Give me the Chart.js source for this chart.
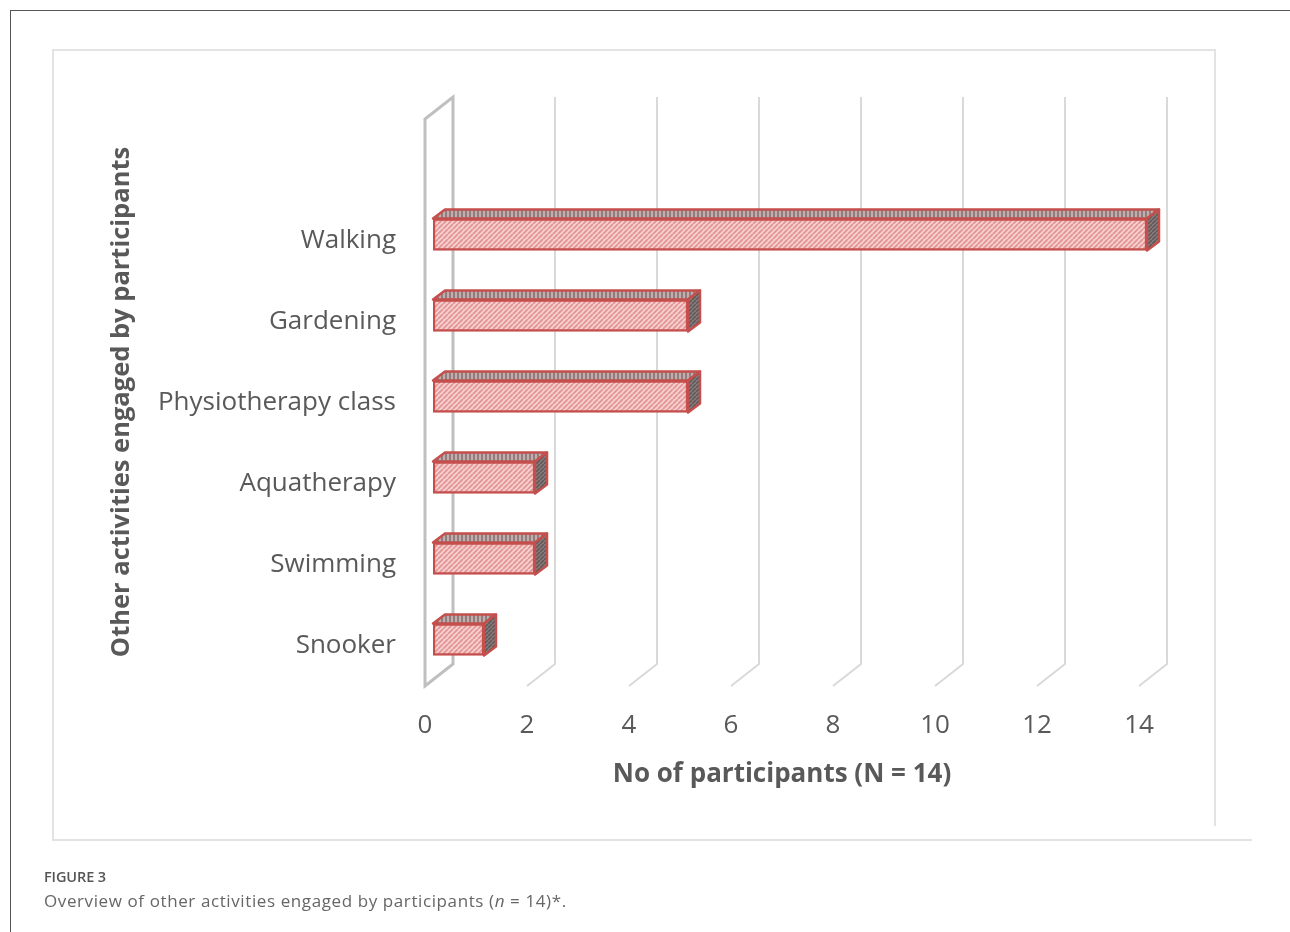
<!DOCTYPE html>
<html>
<head>
<meta charset="utf-8">
<script src="https://cdn.jsdelivr.net/npm/chart.js@4"></script>
<style>
  html, body { margin: 0; padding: 0; background: #fff; }
  body { width: 1290px; height: 932px; position: relative; overflow: hidden; }
  .outer { position: absolute; left: 10px; top: 10px; width: 1290px; height: 930px;
           border-left: 1px solid #555; border-top: 1px solid #555; }
  .frame-l { position: absolute; left: 52px; top: 49px; width: 2px; height: 792px; background: #e3e3e3; }
  .frame-t { position: absolute; left: 52px; top: 49px; width: 1164px; height: 2px; background: #e3e3e3; }
  .frame-r { position: absolute; left: 1214px; top: 49px; width: 2px; height: 777px; background: #e3e3e3; }
  .frame-b { position: absolute; left: 52px; top: 839px; width: 1200px; height: 2px; background: #e3e3e3; }
  #wrap { position: absolute; left: 0; top: 0; width: 1290px; height: 932px; }
  .cap-label { position: absolute; left: 44px; top: 867px; font: 600 14.5px "Open Sans", sans-serif; color: #555; letter-spacing: -0.1px; }
  .cap-text { position: absolute; left: 44px; top: 889px; font: 400 17px "Open Sans", sans-serif; color: #666; letter-spacing: 0.6px; white-space: nowrap; }
</style>
</head>
<body>
<div class="outer"></div>
<div class="frame-l"></div><div class="frame-t"></div><div class="frame-r"></div><div class="frame-b"></div>
<div id="wrap"><canvas id="chart"></canvas></div>
<div class="cap-label">FIGURE 3</div>
<div class="cap-text">Overview of other activities engaged by participants (<i>n</i> = 14)*.</div>
<script>
/* Horizontal "3D" bar chart: other activities of participants */

const activities = ["Walking", "Gardening", "Physiotherapy class", "Aquatherapy", "Swimming", "Snooker"];
const participants = [14, 5, 5, 2, 2, 1];
const xTicks = [0, 2, 4, 6, 8, 10, 12, 14];

const textColor = "#595959";
const barBorder = "#c44f4c";
const font = "Open Sans";

// depth of the floor / back wall and of each bar
const wallDx = 28, wallDy = -22;
const barFront = { dx: 8, dy: -6 };
const barBack = { dx: 20, dy: -15 };

function stripes(bg, fg, size, width, vertical) {
  const c = document.createElement("canvas");
  c.width = size;
  c.height = size;
  const g = c.getContext("2d");
  g.fillStyle = bg;
  g.fillRect(0, 0, size, size);
  g.strokeStyle = fg;
  g.lineWidth = width;
  g.beginPath();
  if (vertical) {
    g.moveTo(size / 2, 0);
    g.lineTo(size / 2, size);
  } else {
    for (let k = -1; k <= 1; k++) {
      g.moveTo(k * size, size);
      g.lineTo(k * size + size, 0);
    }
  }
  g.stroke();
  return g.createPattern(c, "repeat");
}

const frontFill = stripes("#f6d0d0", "#e39494", 5, 1.8, false);
const topFill = stripes("#c9abab", "#857a7a", 4, 1.8, true);
const sideFill = stripes("#8f8080", "#625a5a", 4, 1.8, false);

const wallPlugin = {
  id: "wall",
  beforeDatasetsDraw(chart) {
    const { ctx, chartArea, scales } = chart;
    const bottom = chartArea.bottom;
    const top = chartArea.top - 103;
    ctx.save();
    xTicks.forEach((v) => {
      const xf = scales.x.getPixelForValue(v);
      ctx.beginPath();
      if (v === 0) {
        ctx.moveTo(xf, bottom);
        ctx.lineTo(xf + wallDx, bottom + wallDy);
        ctx.lineTo(xf + wallDx, top);
        ctx.lineTo(xf, top - wallDy);
        ctx.closePath();
        ctx.strokeStyle = "#bfbfbf";
        ctx.lineWidth = 3;
      } else {
        ctx.moveTo(xf, bottom);
        ctx.lineTo(xf + wallDx, bottom + wallDy);
        ctx.lineTo(xf + wallDx, top);
        ctx.strokeStyle = "#d9d9d9";
        ctx.lineWidth = 2;
      }
      ctx.stroke();
    });
    ctx.restore();
  },
};

const boxPlugin = {
  id: "box",
  beforeDatasetsDraw(chart) {
    const { ctx } = chart;
    const meta = chart.getDatasetMeta(0);
    const ddx = barBack.dx - barFront.dx;
    const ddy = barBack.dy - barFront.dy;
    ctx.save();
    ctx.lineJoin = "round";
    ctx.strokeStyle = barBorder;
    ctx.lineWidth = 2.5;
    meta.data.forEach((bar) => {
      const p = bar.getProps(["x", "y", "base", "height"], true);
      const l = p.base + barFront.dx;
      const r = p.x + barFront.dx;
      const t = p.y - p.height / 2 + barFront.dy;
      const b = p.y + p.height / 2 + barFront.dy;
      // top face
      ctx.beginPath();
      ctx.moveTo(l, t);
      ctx.lineTo(l + ddx, t + ddy);
      ctx.lineTo(r + ddx, t + ddy);
      ctx.lineTo(r, t);
      ctx.closePath();
      ctx.fillStyle = topFill;
      ctx.fill();
      ctx.stroke();
      // side face
      ctx.beginPath();
      ctx.moveTo(r, t);
      ctx.lineTo(r + ddx, t + ddy);
      ctx.lineTo(r + ddx, b + ddy);
      ctx.lineTo(r, b);
      ctx.closePath();
      ctx.fillStyle = sideFill;
      ctx.fill();
      ctx.stroke();
    });
    // front faces are drawn by Chart.js, shifted onto the bar's front plane
    ctx.translate(barFront.dx, barFront.dy);
  },
  afterDatasetsDraw(chart) {
    chart.ctx.restore();
  },
};

const yTitlePlugin = {
  id: "yTitle",
  afterDraw(chart) {
    const { ctx } = chart;
    ctx.save();
    ctx.translate(122, 402);
    ctx.rotate(-Math.PI / 2);
    ctx.font = `bold 25.5px "${font}"`;
    ctx.fillStyle = textColor;
    ctx.textAlign = "center";
    ctx.textBaseline = "middle";
    ctx.fillText("Other activities engaged by participants", 0, 0);
    ctx.restore();
  },
};

new Chart(document.getElementById("chart"), {
  type: "bar",
  data: {
    labels: activities,
    datasets: [
      {
        data: participants,
        backgroundColor: frontFill,
        borderColor: barBorder,
        borderWidth: 2.5,
        borderSkipped: false,
        barThickness: 32,
      },
    ],
  },
  options: {
    indexAxis: "y",
    responsive: true,
    maintainAspectRatio: false,
    animation: false,
    layout: { padding: { left: 104, top: 200, right: 151, bottom: 138 } },
    plugins: {
      legend: { display: false },
      tooltip: { enabled: false },
    },
    scales: {
      x: {
        min: 0,
        max: 14,
        afterFit: (s) => { s.height = 108; },
        grid: { display: false, drawTicks: false },
        border: { display: false },
        ticks: { stepSize: 2, padding: 24, color: textColor, font: { family: font, size: 26 } },
        title: {
          display: true,
          text: "No of participants (N = 14)",
          color: textColor,
          font: { family: font, size: 26, weight: "bold" },
          padding: { top: 0, bottom: 4 },
        },
      },
      y: {
        afterFit: (s) => { s.width = 321; },
        grid: { display: false, drawTicks: false },
        border: { display: false },
        ticks: { padding: 29, color: textColor, font: { family: font, size: 26 } },
      },
    },
  },
  plugins: [wallPlugin, boxPlugin, yTitlePlugin],
});
</script>
</body>
</html>
